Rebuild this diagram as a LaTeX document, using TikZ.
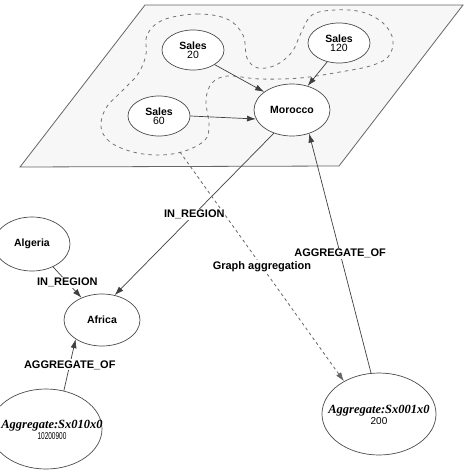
\documentclass[tikz,border=0pt]{standalone}
\usepackage{fontspec}
\setmainfont{Liberation Sans}
\newfontfamily\aggfont{Liberation Serif}
\usetikzlibrary{arrows.meta,shapes.geometric}
\tikzset{
  nd/.style={ellipse,draw=black!70,line width=0.7pt,fill=white,inner sep=0pt,align=center,font=\fontsize{10.5}{9.5}\selectfont},
  smallnd/.style={nd,minimum width=62pt,minimum height=40pt},
  midnd/.style={nd,minimum width=76pt,minimum height=52pt},
  bignd/.style={nd,minimum width=114pt,minimum height=82pt},
  aggtext/.style={align=center,inner sep=0pt,font=\fontsize{10}{10.5}\selectfont},
  edge/.style={draw=black!75,line width=0.7pt,-{Latex[length=9pt,width=6pt]}},
  elabel/.style={fill=white,inner sep=1pt,font=\fontsize{11}{12}\selectfont\bfseries},
  contour/.style={draw=black!55,line width=0.8pt,dash pattern=on 3.5pt off 4pt},
  dashedge/.style={draw=black!60,line width=0.8pt,dash pattern=on 3pt off 3pt,-{Latex[length=9pt,width=6pt]}},
  plane/.style={fill=black!3,draw=black!60,line width=0.8pt},
}
\newcommand{\aggname}[1]{{\aggfont\fontsize{12.5}{13}\selectfont\bfseries\itshape #1}}
\begin{document}
\begin{tikzpicture}[x=1pt,y=-1pt]
\useasboundingbox (0,0) rectangle (474,474);
\clip (0,0) rectangle (474,474);
\fill[white] (0,0) rectangle (474,474);
% plane
\draw[plane] (145,5) -- (463,5) -- (339,166) -- (20,167) -- cycle;
% contour
\draw[contour] plot[smooth cycle, tension=0.6] coordinates {
 (163,20) (197,14) (227,19) (243,35) (247,58) (258,68) (276,65) (292,52)
 (301,33) (312,15) (335,10) (362,12) (383,23) (393,40) (388,57) (370,66)
 (340,72) (300,78) (260,79) (228,76) (212,83) (206,100) (209,125) (205,140)
 (185,151) (160,155) (133,152) (110,142) (101,127) (106,108) (123,90)
 (138,74) (146,55) (147,35)};
\coordinate (gstart) at (180,152);
% nodes
\node[smallnd] (s20) at (193,50) {\textbf{Sales}\\20};
\node[smallnd] (s120) at (339,43) {\textbf{Sales}\\120};
\node[smallnd] (s60) at (159,116) {\textbf{Sales}\\60};
\node[midnd] (mor) at (292,110) {\textbf{Morocco}};
\node[midnd,minimum height=54pt] (alg) at (32,244) {\textbf{Algeria}};
\node[midnd] (afr) at (102,320) {\textbf{Africa}};
\node[bignd] (agg1) at (379,414) {};
\node[aggtext] (agg1t) at (379,415) {\aggname{Aggregate:Sx001x0}\\200};
\node[bignd,minimum width=112pt,minimum height=80pt] (agg2) at (46,429) {};
\node[aggtext] (agg2t) at (52,430) {\aggname{Aggregate:Sx010x0}\\\scalebox{0.65}[1]{10200900}};
% edges
\draw[edge] (s20.326) -- (mor.147);
\draw[edge] (s120.238) -- (mor.57);
\draw[edge] (s60.east) -- (mor.194);
\draw[edge] (mor.232) -- node[elabel,pos=0.5] (l1) {IN\_REGION} (afr.63);
\draw[edge] (alg) -- node[elabel,pos=0.5] (l2) {IN\_REGION} (afr);
\draw[edge] (agg2.65) -- node[elabel,pos=0.5] (l3) {AGGREGATE\_OF} (afr.216);
\draw[edge] (agg1.101) -- node[elabel,pos=0.5] (l4) {AGGREGATE\_OF} (mor.306);
\draw[dashedge] (gstart) -- node[elabel,pos=0.5] (l5) {Graph aggregation} (agg1.137);
\end{tikzpicture}
\end{document}
